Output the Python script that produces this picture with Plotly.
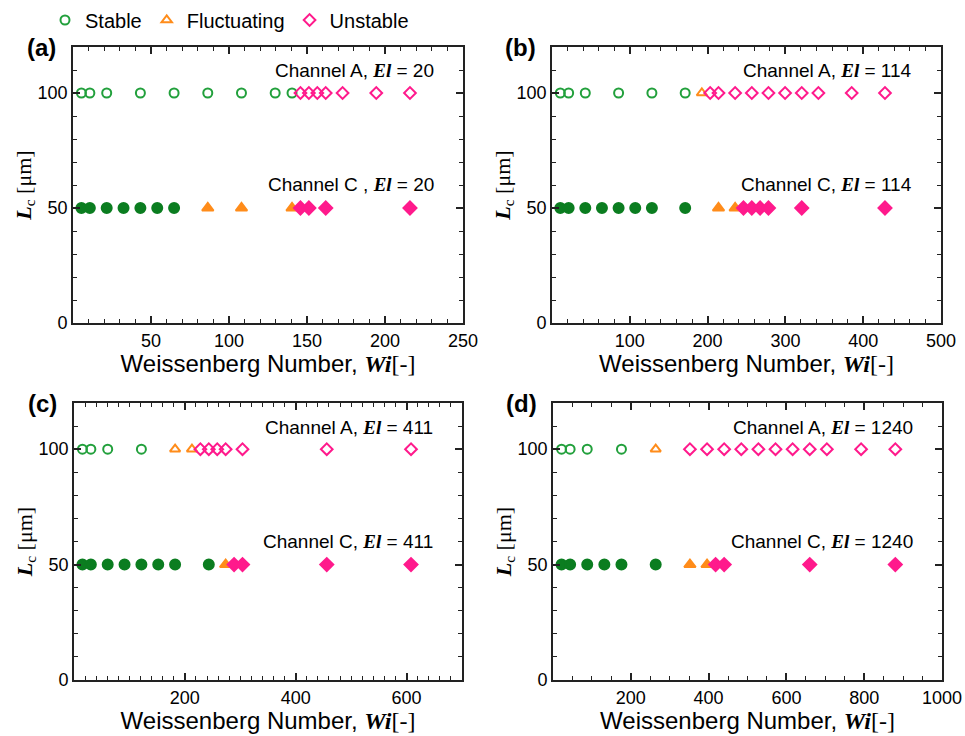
import plotly.graph_objects as go

W, H = 965, 736

# ---------------- data ----------------
LC_A = 100   # Channel A, L_c [um]
LC_C = 50    # Channel C, L_c [um]

# (a) El = 20
a_A_stable = [5.4, 10.8, 21.6, 43.2, 64.8, 86.4, 108.0, 129.6, 140.4]
a_A_fluct = []
a_A_unstable = [145.8, 151.2, 156.6, 162.0, 172.8, 194.4, 216.0]
a_C_stable = [5.4, 10.8, 21.6, 32.4, 43.2, 54.0, 64.8]
a_C_fluct = [86.4, 108.0, 140.4]
a_C_unstable = [145.8, 151.2, 162.0, 216.0]

# (b) El = 114
b_A_stable = [10.7, 21.4, 42.8, 85.6, 128.4, 171.2]
b_A_fluct = [192.6]
b_A_unstable = [203.3, 214.0, 235.4, 256.8, 278.2, 299.6, 321.0, 342.4, 385.2, 428.0]
b_C_stable = [10.7, 21.4, 42.8, 64.2, 85.6, 107.0, 128.4, 171.2]
b_C_fluct = [214.0, 235.4]
b_C_unstable = [246.1, 256.8, 267.5, 278.2, 321.0, 428.0]

# (c) El = 411
c_A_stable = [15.2, 30.4, 60.8, 121.6]
c_A_fluct = [182.4, 212.8]
c_A_unstable = [228.0, 243.2, 258.4, 273.6, 304.0, 456.0, 608.0]
c_C_stable = [15.2, 30.4, 60.8, 91.2, 121.6, 152.0, 182.4, 243.2]
c_C_fluct = [273.6]
c_C_unstable = [288.8, 304.0, 456.0, 608.0]

# (d) El = 1240
d_A_stable = [22, 44, 88, 176]
d_A_fluct = [264]
d_A_unstable = [352, 396, 440, 484, 528, 572, 616, 660, 704, 792, 880]
d_C_stable = [22, 44, 88, 132, 176, 264]
d_C_fluct = [352, 396]
d_C_unstable = [418, 440, 660, 880]

panel_labels = ["(a)", "(b)", "(c)", "(d)"]
el_values = ["20", "114", "411", "1240"]
x_ranges = [[0, 250], [0, 500], [0, 700], [0, 1000]]
x_tick_labels = [[50, 100, 150, 200, 250], [100, 200, 300, 400, 500],
                 [200, 400, 600], [200, 400, 600, 800, 1000]]
x_minor = [10, 20, 20, 50]
y_tick_labels = [0, 50, 100]

# ---------------- style ----------------
SANS = "Liberation Sans, Arial, sans-serif"
SERIF = "Liberation Serif"
GREEN_OPEN = "#22a03c"
GREEN_FILL = "#0b7d20"
ORANGE = "#ff8c1a"
PINK = "#ff1a8c"


def px_x(x):
    return x / W


def px_y(y):
    return 1 - y / H


def serif_bi(txt, size):
    return (f"<span style='font-family:{SERIF};font-size:{size}px;"
            f"font-weight:bold;font-style:italic'>{txt}</span>")


X_TITLE = ("Weissenberg Number, " + serif_bi("Wi", 24)
           + f"<span style='font-family:{SERIF};font-size:24px'>[-]</span>")
Y_TITLE = serif_bi("L", 22) + "<sub>c</sub> [μm]"

# plot-area pixel boxes (left, right, top, bottom)
boxes = [(73, 463, 47, 323), (552, 941, 47, 323),
         (74, 462, 403, 680), (553, 942, 403, 680)]

fig = go.Figure()

panels = [
    (a_A_stable, a_A_fluct, a_A_unstable, a_C_stable, a_C_fluct, a_C_unstable),
    (b_A_stable, b_A_fluct, b_A_unstable, b_C_stable, b_C_fluct, b_C_unstable),
    (c_A_stable, c_A_fluct, c_A_unstable, c_C_stable, c_C_fluct, c_C_unstable),
    (d_A_stable, d_A_fluct, d_A_unstable, d_C_stable, d_C_fluct, d_C_unstable),
]

legend_done = set()
for i, p in enumerate(panels):
    xa = "x" if i == 0 else f"x{i+1}"
    ya = "y" if i == 0 else f"y{i+1}"
    A_st, A_fl, A_un, C_st, C_fl, C_un = p
    specs = [
        (A_st, LC_A, "circle-open", GREEN_OPEN, "Stable", 1, 9),
        (A_fl, LC_A, "triangle-up-open", ORANGE, "Fluctuating", 2, 9),
        (A_un, LC_A, "diamond-open", PINK, "Unstable", 3, 9),
        (C_st, LC_C, "circle", GREEN_FILL, "Stable", None, 10),
        (C_fl, LC_C, "triangle-up", ORANGE, "Fluctuating", None, 10),
        (C_un, LC_C, "diamond", PINK, "Unstable", None, 10),
    ]
    for xs, lc, sym, col, name, rank, size in specs:
        if not xs:
            continue
        show = rank is not None and name not in legend_done
        if show:
            legend_done.add(name)
        fig.add_trace(go.Scatter(
            x=xs, y=[lc] * len(xs), mode="markers", name=name,
            xaxis=xa, yaxis=ya, showlegend=show,
            legendrank=rank if rank else 1000,
            marker=dict(symbol=sym, size=size, color=col,
                        line=dict(color=col, width=2)),
            hoverinfo="x+y",
        ))

layout = dict(
    width=W, height=H, autosize=False,
    margin=dict(l=0, r=0, t=0, b=0, pad=0, autoexpand=False),
    paper_bgcolor="white", plot_bgcolor="white",
    font=dict(family=SANS, size=18, color="black"),
    showlegend=True,
    legend=dict(orientation="h", x=px_x(45), y=px_y(20), xanchor="left",
                yanchor="middle", font=dict(size=20, family=SANS),
                itemwidth=30, bgcolor="rgba(0,0,0,0)"),
)

annotations = []
for i in range(4):
    l, r, t, b = boxes[i]
    xk = "xaxis" if i == 0 else f"xaxis{i+1}"
    yk = "yaxis" if i == 0 else f"yaxis{i+1}"
    lo, hi = x_ranges[i]
    layout[xk] = dict(
        domain=[px_x(l), px_x(r)], range=[lo, hi], anchor="y" if i == 0 else f"y{i+1}",
        tickmode="array", tickvals=x_tick_labels[i],
        ticktext=[str(v) for v in x_tick_labels[i]],
        ticks="inside", ticklen=7, tickwidth=1.5, tickcolor="#222",
        minor=dict(dtick=x_minor[i], ticks="inside", ticklen=4, tickwidth=1.2, tickcolor="#222"),
        showline=True, linecolor="#222", linewidth=1.8, mirror="ticks",
        showgrid=False, zeroline=False, tickfont=dict(size=18, family=SANS),
        title=dict(text=X_TITLE, font=dict(size=24, family=SANS), standoff=2),
        fixedrange=True, automargin=True,
    )
    layout[yk] = dict(
        domain=[px_y(b), px_y(t)], range=[0, 120], anchor="x" if i == 0 else f"x{i+1}",
        tickmode="array", tickvals=y_tick_labels, ticktext=[str(v) for v in y_tick_labels],
        ticks="inside", ticklen=7, tickwidth=1.5, tickcolor="#222",
        minor=dict(dtick=10, ticks="inside", ticklen=4, tickwidth=1.2, tickcolor="#222"),
        showline=True, linecolor="#222", linewidth=1.8, mirror="ticks",
        showgrid=False, zeroline=False, tickfont=dict(size=18, family=SANS),
        title=dict(text=Y_TITLE, font=dict(size=22, family=SERIF), standoff=0),
        fixedrange=True, automargin=True,
    )
    # panel label
    annotations.append(dict(text=panel_labels[i], x=px_x(l - 32), y=px_y(t),
                            xref="paper", yref="paper", showarrow=False,
                            xanchor="center", yanchor="middle",
                            font=dict(size=24, family=SANS, weight="bold")))
    # channel labels
    sepC = " ," if i == 0 else ","
    el_html = serif_bi("El", 19)
    annotations.append(dict(text=f"Channel A, {el_html} = {el_values[i]}",
                            x=px_x(r - 27), y=px_y(t + 24), xref="paper", yref="paper",
                            showarrow=False, xanchor="right", yanchor="middle",
                            font=dict(size=19, family=SANS)))
    annotations.append(dict(text=f"Channel C{sepC} {el_html} = {el_values[i]}",
                            x=px_x(r - 27), y=px_y(t + 138), xref="paper", yref="paper",
                            showarrow=False, xanchor="right", yanchor="middle",
                            font=dict(size=19, family=SANS)))

layout["annotations"] = annotations
fig.update_layout(**layout)
fig.write_html(
    "out.html",
    config={"displayModeBar": False},
    post_script=(
        "document.documentElement.style.margin='0';"
        "document.body.style.margin='0';"
        "document.body.style.overflow='hidden';"
        "document.documentElement.style.overflow='hidden';"
    ),
)
